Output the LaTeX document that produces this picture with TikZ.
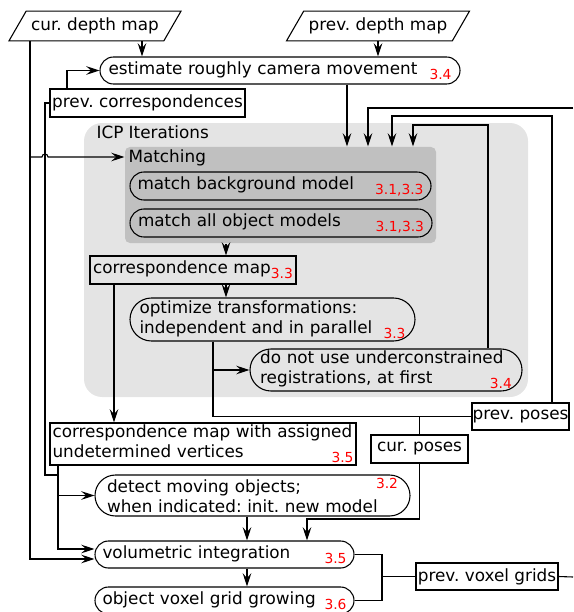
\documentclass[tikz,border=0pt]{standalone}
\usepackage{fontspec}
\setmainfont{DejaVu Sans}
\usetikzlibrary{arrows.meta,shapes.geometric}
\frenchspacing

\definecolor{icpgray}{RGB}{228,228,228}
\definecolor{matchgray}{RGB}{192,192,192}
\newcommand{\diagfont}{\fontsize{10.1}{12}\selectfont}
\newcommand{\refsub}[1]{\raisebox{-3pt}{\fontsize{8.3}{9}\selectfont\color{red}#1}}
\newcommand{\refsup}[1]{\raisebox{2.4pt}{\fontsize{8.3}{9}\selectfont\color{red}#1}}

\tikzset{every picture/.style={line width=0.65pt}}
\tikzset{
  databox/.style={draw, trapezium, trapezium left angle=60, trapezium right angle=120, inner xsep=3pt, inner ysep=4pt},
  stepbox/.style={draw, rectangle, inner ysep=0pt},
  pill/.style={draw, rectangle, align=left, inner ysep=0pt},
  grouplabel/.style={anchor=base west, inner sep=0pt},
  arr/.style={-{Stealth[length=8pt,width=5.2pt,inset=3pt]}},
}

\begin{document}
\begin{tikzpicture}[x=0.6pt,y=0.6pt,yscale=-1,xscale=1,font=\diagfont]
\useasboundingbox (0,0) rectangle (573,612);

%Rounded Rect (groups)
\node[fill=icpgray, rounded corners=10.8pt, minimum width=266.4pt, minimum height=164.4pt, inner sep=0pt] (icp) at (306,260) {};
\node[fill=matchgray, rounded corners=3pt, minimum width=186.6pt, minimum height=57.6pt, inner sep=0pt] (matching) at (280.5,195) {};
% Text Node
\node[grouplabel] (icplabel) at (96,139) {ICP Iterations};
% Text Node
\node[grouplabel] (matchlabel) at (128,163) {Matching};

%Inputs
\node[databox] (curdepth) at (95,26) {cur. depth map};
\node[databox] (prevdepth) at (378,26) {prev. depth map};

%Steps
\node[pill, minimum height=16.2pt, rounded corners=8.1pt, text width=205.8pt, inner xsep=5.1pt] (estimate) at (280,70.5) {estimate roughly camera movement\hfill\refsub{3.4}};
\node[stepbox, minimum width=117pt, minimum height=16.8pt, inner xsep=0pt] (prevcorr) at (147.5,103) {prev. correspondences};
\node[pill, minimum height=16.8pt, rounded corners=8.4pt, text width=171.6pt, inner xsep=4.5pt] (matchbg) at (280.5,186) {match background model\hfill\refsub{3.1,3.3}};
\node[pill, minimum height=16.8pt, rounded corners=8.4pt, text width=171.6pt, inner xsep=4.8pt] (matchobj) at (281,223) {match all object models\hfill\refsub{3.1,3.3}};
\node[stepbox, align=left, minimum height=16.8pt, text width=120pt, inner xsep=1.8pt] (corrmap) at (193,270) {correspondence~map\refsub{3.3}};
\node[pill, minimum height=25.8pt, rounded corners=12.9pt, text width=159.6pt, inner xsep=5.7pt] (optimize) at (272.5,319.5) {optimize transformations:\\independent and in parallel\hfill\refsub{3.3}};
\node[pill, minimum height=25.2pt, rounded corners=12.6pt, text width=151pt, inner xsep=6.1pt] (dontuse) at (386,370) {do not use underconstrained\\registrations, at first\hfill\refsub{3.4}};
\node[stepbox, align=left, minimum height=25.2pt, text width=180.6pt, inner xsep=1.5pt] (corrassign) at (203,444) {correspondence map with assigned\\undetermined vertices\hfill\refsub{3.5}};
\node[stepbox, minimum width=58.2pt, minimum height=16.2pt, inner xsep=0pt] (prevposes) at (520.5,416.5) {prev. poses};
\node[stepbox, minimum width=58.2pt, minimum height=16.8pt] (curposes) at (419.5,449) {cur. poses};
\node[pill, minimum height=24.6pt, rounded corners=12.3pt, text width=174.6pt, inner xsep=7.2pt] (detect) at (252.5,495.5) {detect moving objects;\hfill\refsup{3.2}\\when indicated: init. new model};
\node[pill, minimum height=16.2pt, rounded corners=8.1pt, text width=146.4pt, inner xsep=4.5pt] (volint) at (224.5,554.5) {volumetric integration\hfill\refsub{3.5}};
\node[pill, minimum height=16.2pt, rounded corners=8.1pt, text width=146.4pt, inner xsep=4.5pt] (voxgrow) at (224.5,600.5) {object voxel grid growing\hfill\refsub{3.6}};
\node[stepbox, minimum width=85.2pt, minimum height=16.2pt, inner xsep=0pt] (prevvox) at (487,576.5) {prev. voxel grids};

%Free ends at the right border
\coordinate (poseext) at (573,108);
\coordinate (voxext) at (573,577);

%Straight Lines (top)
\draw[arr] (curdepth.south -| 142,0) -- (estimate.north -| 142,0);
\draw[arr] (prevdepth.south) -- (estimate.north -| prevdepth.south);
\draw[arr] (prevcorr.north -| 67,0) |- (estimate.west);
\draw[arr] (estimate.south -| 347,0) -- (matching.north -| 347,0);
\draw[arr] (poseext) -| (matching.north -| 368,0);
\draw[arr] (prevposes.north -| 552,0) |- (392,116) -- (matching.north -| 392,0);
\draw[arr] (dontuse.north -| 488,0) |- (413,125) -- (matching.north -| 413,0);

%Straight Lines (left)
\draw[arr] (curdepth.south -| 30,0) |- (volint.west |- 0,559);
\draw[arr] (30,157) -- (42,157) arc[start angle=180, end angle=360, radius=3] -- (matching.west |- 0,157);
\draw (prevcorr.west) -| (45,475) -- (58,475);
\draw[arr] (corrassign.south -| 58,0) |- (volint.west |- 0,549);
\draw[arr] (detect.west -| 58,0) -- (detect.west);

%Straight Lines (ICP)
\draw[arr] (matching.south -| 226,0) -- (corrmap.north -| 226,0);
\draw[arr] (corrmap.south -| 226,0) -- (optimize.north -| 226,0);
\draw[arr] (corrmap.south -| 114,0) -- (corrassign.north -| 114,0);
\draw[arr] (optimize.south -| 213,0) |- (dontuse.west);
\draw (optimize.south -| 213,0) |- (prevposes.west);
\draw (curposes.north) -- (curposes.north |- prevposes.west);

%Straight Lines (bottom)
\draw[arr] (curposes.south) |- (307,519) -- (volint.north -| 307,0);
\draw[arr] (detect.south -| 247,0) -- (volint.north -| 247,0);
\draw[arr] (volint.south -| 247,0) -- (voxgrow.north -| 247,0);
\draw (volint.east) -| (voxgrow.east -| 382,0) -- (voxgrow.east);
\draw (prevvox.west) -- (prevvox.west -| 382,0);
\draw (prevvox.east) -- (voxext);

\end{tikzpicture}
\end{document}
